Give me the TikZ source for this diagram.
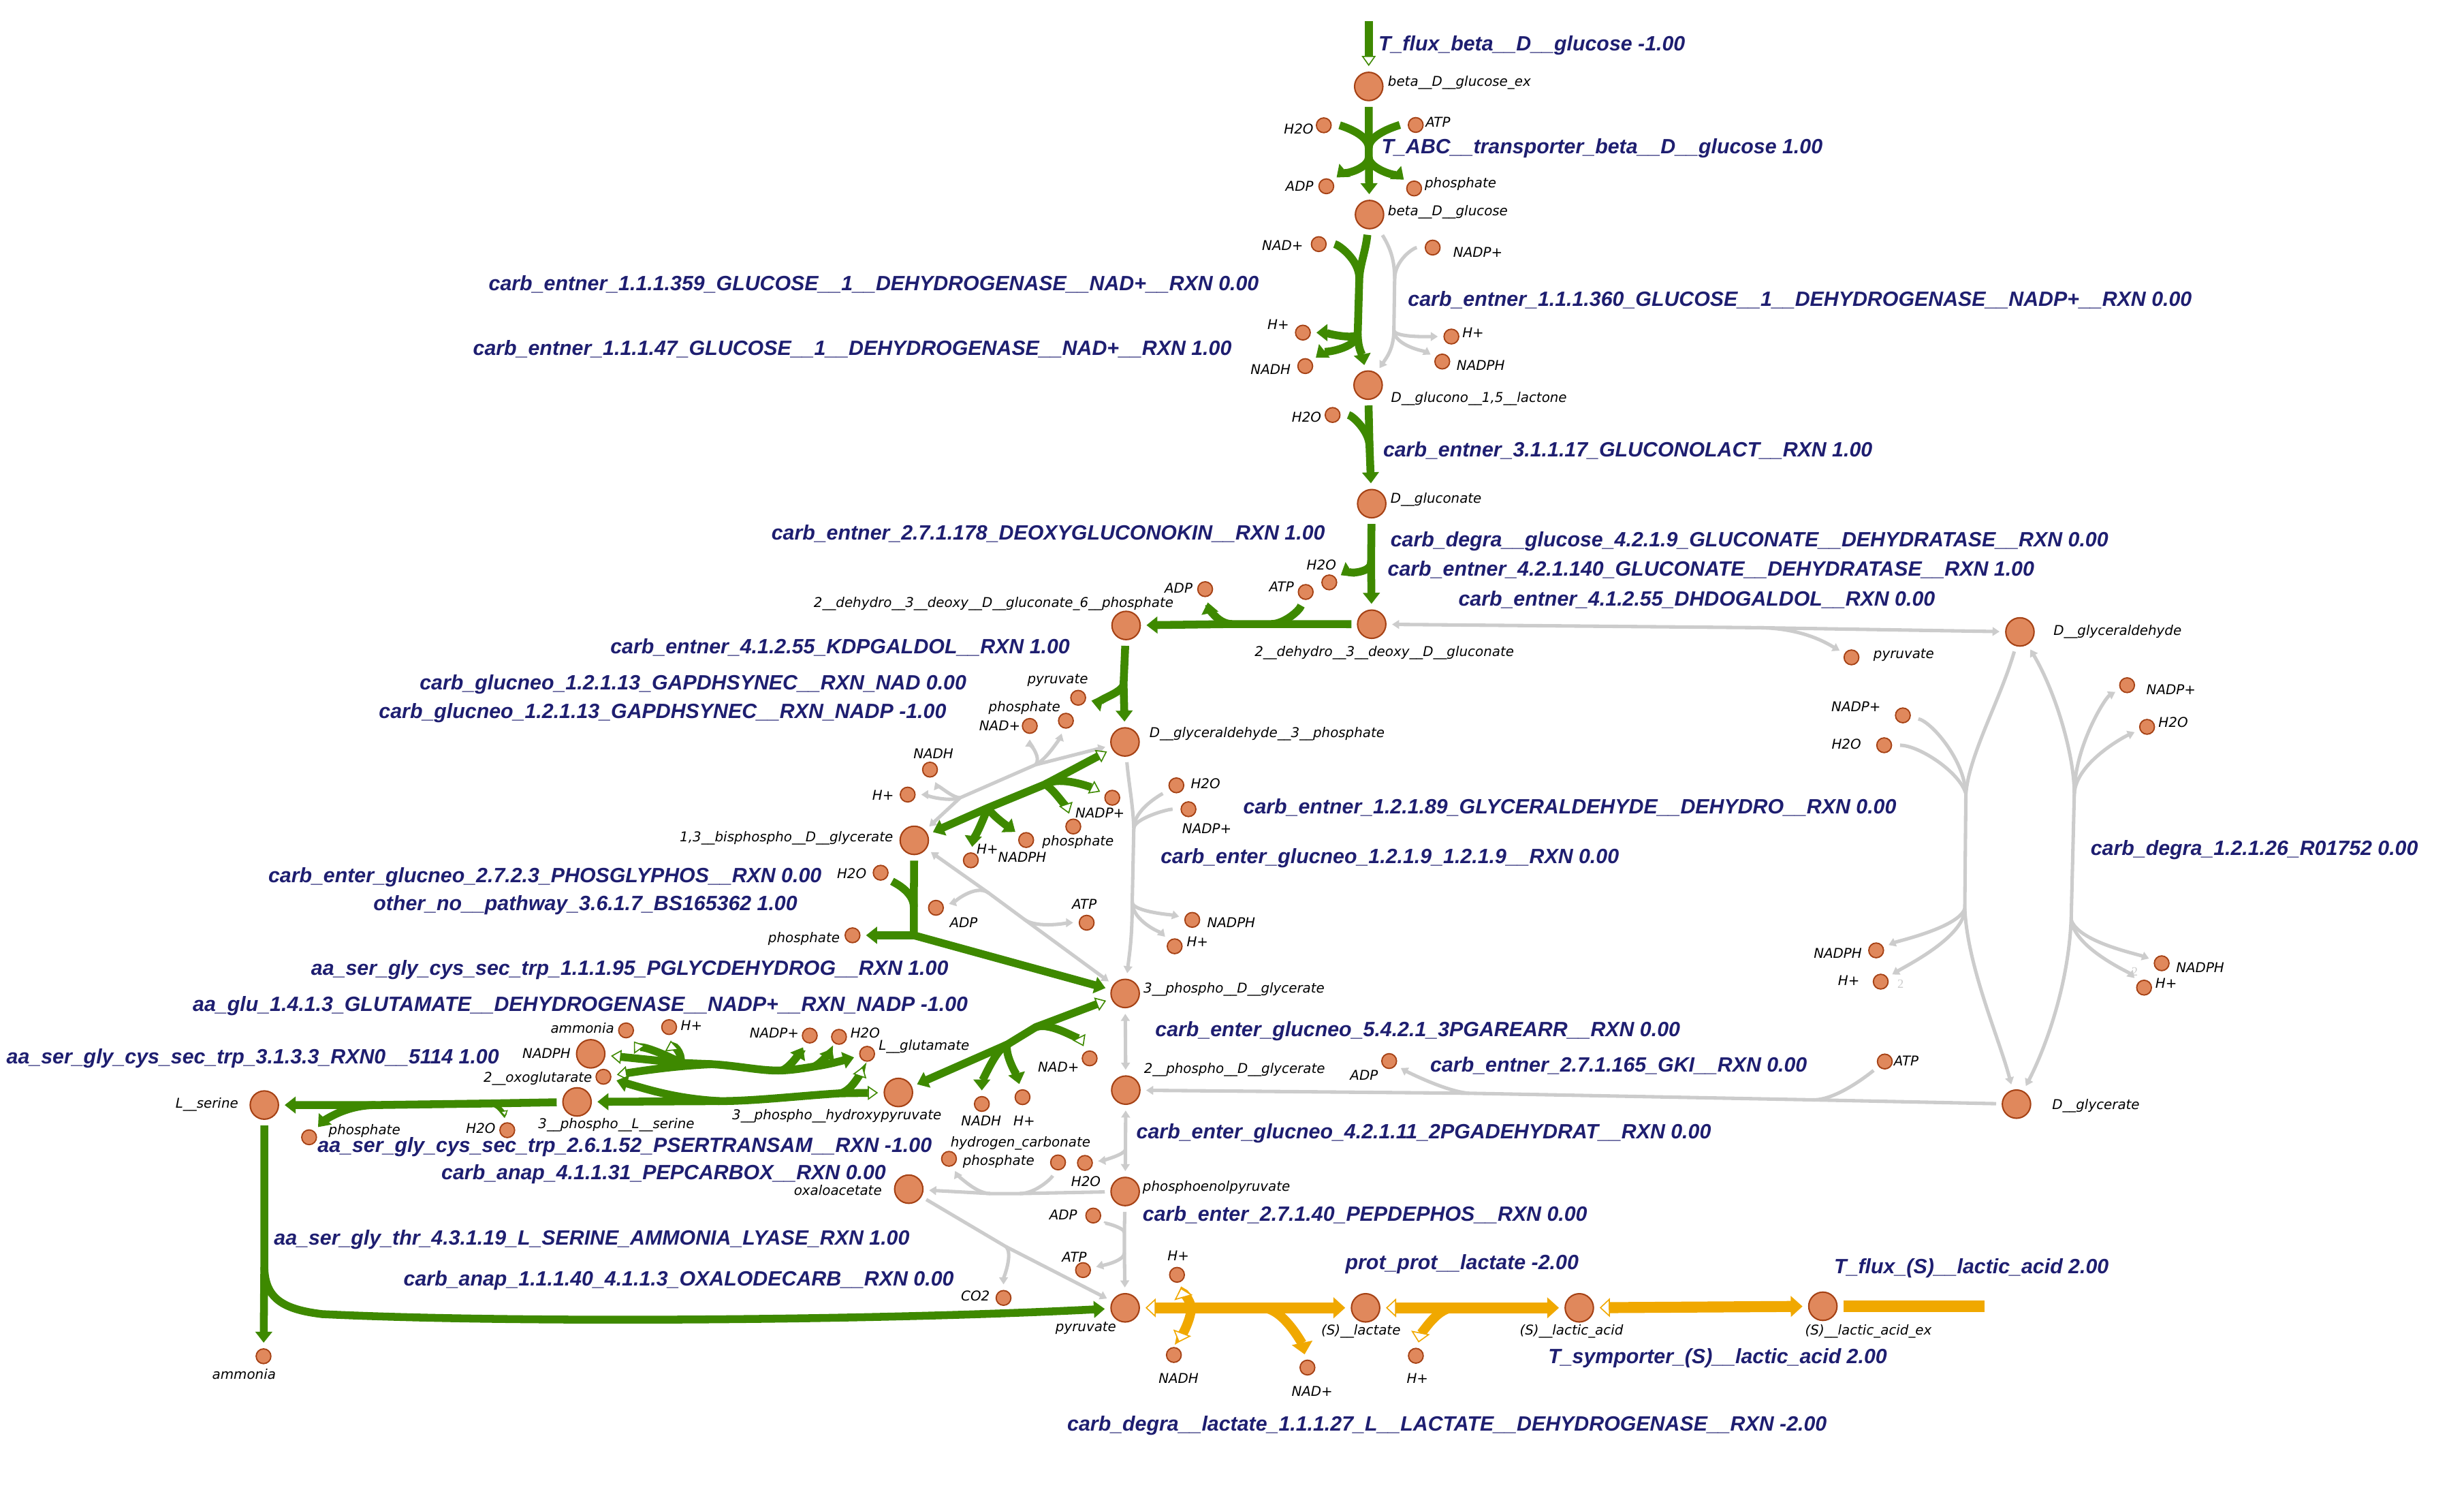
\documentclass[tikz,border=0pt]{standalone}
\usepackage{fontspec}
\setmainfont{Liberation Sans}
\newfontfamily\metfont{DejaVu Sans}
\newfontfamily\stoichfont{Liberation Serif}
\usetikzlibrary{arrows.meta}
\definecolor{fluxgreen}{RGB}{62,137,0}
\definecolor{fluxorange}{RGB}{240,168,0}
\definecolor{zerogray}{RGB}{204,204,204}
\definecolor{metfill}{RGB}{224,136,92}
\definecolor{metedge}{RGB}{165,65,20}
\definecolor{rxnblue}{RGB}{30,30,112}
\tikzset{
  gtip/.tip={Triangle[length=7pt,width=10.5pt]},
  gopen/.tip={Triangle[length=6.5pt,width=9pt,line width=0.7pt,fill=white]},
  otip/.tip={Triangle[length=7.5pt,width=13pt]},
  oopen/.tip={Triangle[length=6.5pt,width=12pt,line width=0.7pt,fill=white]},
  ztip/.tip={Triangle[length=4.5pt,width=5.5pt]},
  htip/.tip={Triangle[length=4pt,width=5pt,line width=0.6pt,fill=white]},
}
\begin{document}
\begin{tikzpicture}[x=1pt, y=-1pt,
    met node/.style={circle, draw=metedge, fill=metfill, line width=0.9pt, inner sep=0pt, minimum size=18pt},
    side node/.style={circle, draw=metedge, fill=metfill, line width=0.8pt, inner sep=0pt, minimum size=9.4pt},
    met label/.style={font=\metfont\itshape\fontsize{8.6}{10}\selectfont, inner sep=0pt},
    rxn label/.style={font=\bfseries\itshape\fontsize{13.15}{15}\selectfont, text=rxnblue, inner sep=0pt},
    stoich/.style={font=\stoichfont\fontsize{8}{9}\selectfont, text=zerogray, inner sep=0pt},
    flux/.style={draw=fluxgreen, line width=5pt, shorten >=3.5pt},
    lactate flux/.style={draw=fluxorange, line width=7pt, shorten >=3.5pt},
    zero flux/.style={draw=zerogray, line width=2.2pt, shorten >=3.5pt},
    from node/.style={shorten <=3.5pt}]
  \useasboundingbox (0,0) rectangle (1568,951.4);

  % main metabolites
  \node[met node] (glcex) at (871,55) {};
  \node[met node] (glc) at (871.5,136.5) {};
  \node[met node] (glcl) at (870.6,245) {};
  \node[met node] (glcn) at (872.9,320.4) {};
  \node[met node] (kdg) at (872.9,397.1) {};
  \node[met node] (kdpg) at (716.6,397.9) {};
  \node[met node] (gap) at (715.9,472) {};
  \node[met node] (bpg) at (581.8,534.6) {};
  \node[met node] (pga3) at (716,632) {};
  \node[met node] (pga2) at (716.4,693.5) {};
  \node[met node] (pep) at (716,758) {};
  \node[met node] (pyr) at (716,832) {};
  \node[met node] (oaa) at (578.3,756.5) {};
  \node[met node] (php) at (571.7,695) {};
  \node[met node] (pser) at (367.2,701) {};
  \node[met node] (ser) at (168.2,703) {};
  \node[met node] (nadphg) at (375.9,670.4) {};
  \node[met node] (glyald) at (1285.4,402) {};
  \node[met node] (glyc) at (1283.2,702.4) {};
  \node[met node] (lac) at (869,832) {};
  \node[met node] (laca) at (1005,832) {};
  \node[met node] (lacex) at (1160,831) {};

  % side metabolites
  \node[side node] (h2oa) at (842.4,79.7) {};
  \node[side node] (atpa) at (900.9,79.5) {};
  \node[side node] (adpa) at (844,118.5) {};
  \node[side node] (pia) at (899.9,119.9) {};
  \node[side node] (nada) at (839.2,155.3) {};
  \node[side node] (nadpa) at (911.7,157.5) {};
  \node[side node] (hla) at (829.1,211.6) {};
  \node[side node] (nadha) at (830.6,232.9) {};
  \node[side node] (hra) at (923.6,214.1) {};
  \node[side node] (nadpha) at (917.8,230) {};
  \node[side node] (h2ob) at (848,264) {};
  \node[side node] (h2oc) at (845.9,370.5) {};
  \node[side node] (atpb) at (830.9,376.6) {};
  \node[side node] (adpb) at (766.9,374.8) {};
  \node[side node] (pyrb) at (686.1,443.9) {};
  \node[side node] (pib) at (678.3,458.5) {};
  \node[side node] (nadb) at (655.3,461.8) {};
  \node[side node] (nadhb) at (591.8,489.6) {};
  \node[side node] (hb) at (577.6,505.5) {};
  \node[side node] (nadpb) at (707.8,507.5) {};
  \node[side node] (pic) at (683,525.8) {};
  \node[side node] (hc) at (617.8,547.3) {};
  \node[side node] (nadphc) at (653,534.4) {};
  \node[side node] (h2od) at (748.6,499.6) {};
  \node[side node] (nadpd) at (756.3,514.8) {};
  \node[side node] (nadphd) at (758.7,585.2) {};
  \node[side node] (hd) at (747.5,602) {};
  \node[side node] (h2oe) at (560.4,555.2) {};
  \node[side node] (adpe) at (595.6,577.5) {};
  \node[side node] (atpe) at (691.5,587) {};
  \node[side node] (pie) at (542.5,595) {};
  \node[side node] (nadf) at (693.4,673.3) {};
  \node[side node] (nadhf) at (624.8,702.3) {};
  \node[side node] (hf) at (650.7,698) {};
  \node[side node] (nh3g) at (398.4,655.5) {};
  \node[side node] (hg) at (425.8,653.4) {};
  \node[side node] (ogg) at (384,685) {};
  \node[side node] (nadpg) at (515.3,658.8) {};
  \node[side node] (h2og) at (533.9,659.6) {};
  \node[side node] (glug) at (551.8,670.4) {};
  \node[side node] (h2oh) at (322.8,719) {};
  \node[side node] (pih) at (196.7,723.5) {};
  \node[side node] (nh3i) at (167.7,862.8) {};
  \node[side node] (hco3) at (673.3,739.5) {};
  \node[side node] (pij) at (603.9,737.2) {};
  \node[side node] (h2oj) at (690.4,739.8) {};
  \node[side node] (adpk) at (695.7,773.3) {};
  \node[side node] (atpk) at (689.2,808) {};
  \node[side node] (co2) at (638.6,825.7) {};
  \node[side node] (pyrl) at (1178.2,418.2) {};
  \node[side node] (nadpm) at (1210.9,455.1) {};
  \node[side node] (h2om) at (1199,474.1) {};
  \node[side node] (nadphm) at (1193.9,604.6) {};
  \node[side node] (hm) at (1196.8,624.5) {};
  \node[side node] (nadpn) at (1353.6,435.9) {};
  \node[side node] (h2on) at (1366.3,462.4) {};
  \node[side node] (nadphn) at (1375.6,612.8) {};
  \node[side node] (hn) at (1364.4,628.3) {};
  \node[side node] (atpo) at (1199.4,675.3) {};
  \node[side node] (adpo) at (884,675) {};
  \node[side node] (hp) at (749,811) {};
  \node[side node] (nadhp) at (747,862) {};
  \node[side node] (nadpp) at (832,870) {};
  \node[side node] (hq) at (901,862.5) {};

  % beta-D-glucose uptake
  \coordinate (glcin) at (871,13.5);
  \draw[flux, -{gopen}] (glcin) -- (glcex);
  \coordinate (abcin) at (871,94);
  \coordinate (abcout) at (871,100);
  \draw[flux, -{gtip}, from node] (glcex) -- (abcin) -- (abcout) -- (glc);
  \draw[flux, shorten >=5pt] (abcin) .. controls +(0,-9) and +(-10,0) .. (atpa);
  \draw[flux, shorten >=5pt] (abcin) .. controls +(0,-9) and +(10,0) .. (h2oa);
  \draw[flux, -{gtip}] (abcout) .. controls +(0,8) and +(7,-6) .. (adpa);
  \draw[flux, -{gtip}] (abcout) .. controls +(0,8) and +(-7,-6) .. (pia);

  % glucose dehydrogenase, NAD+ and NADP+
  \coordinate (gdha1) at (865,177);
  \coordinate (gdha2) at (864,212);
  \draw[flux, -{gtip}, from node] (glc) .. controls (869,160) and (865.5,168) .. (gdha1) -- (gdha2) .. controls (864,222) and (867,226) .. (glcl);
  \draw[flux, shorten >=5pt] (gdha1) .. controls +(0,-12) and +(12,0) .. (nada);
  \draw[flux, -{gtip}] (gdha2) .. controls +(0,5) and +(12,0) .. (hla);
  \draw[flux, -{gtip}] (gdha2) .. controls +(0,10) and +(10,-8) .. (nadha);
  \coordinate (gdhb1) at (887.5,177.5);
  \coordinate (gdhb2) at (887,210);
  \draw[zero flux, -{ztip}, shorten <=6pt] (glc) .. controls (885,158) and (887.5,166) .. (gdhb1) -- (gdhb2) .. controls (887,222) and (882,228) .. (glcl);
  \draw[zero flux, shorten >=5pt] (gdhb1) .. controls +(0,-12) and +(-12,0) .. (nadpa);
  \draw[zero flux, -{ztip}] (gdhb2) .. controls +(0,5) and +(-12,0) .. (hra);
  \draw[zero flux, -{ztip}] (gdhb2) .. controls +(0,10) and +(-10,-6) .. (nadpha);

  % gluconolactonase, dehydratase
  \coordinate (glac) at (871.5,284);
  \draw[flux, -{gtip}, from node] (glcl) -- (glac) -- (glcn);
  \draw[flux, shorten >=5pt] (glac) .. controls +(0,-10) and +(12,0) .. (h2ob);
  \coordinate (gdt) at (872.5,358);
  \draw[flux, -{gtip}, from node] (glcn) -- (gdt) -- (kdg);
  \draw[flux, -{gtip}] (gdt) .. controls +(0,7) and +(8,-5) .. (h2oc);

  % deoxygluconokinase
  \coordinate (dgk1) at (809,397);
  \coordinate (dgk2) at (784,397);
  \draw[flux, -{gtip}, from node] (kdg) -- (dgk1) -- (dgk2) -- (kdpg);
  \draw[flux, shorten >=4pt] (dgk1) .. controls +(8,0) and +(-4,12) .. (atpb);
  \draw[flux, -{gtip}] (dgk2) .. controls +(-10,0) and +(2,10) .. (adpb);

  % aldolases
  \coordinate (ald) at (1118,399.3);
  \draw[zero flux, {ztip}-{ztip}, from node] (glyald) -- (ald) -- (kdg);
  \draw[zero flux, -{ztip}] (ald) .. controls +(30,0) and +(-14,-8) .. (pyrl);
  \coordinate (kda) at (715,435);
  \draw[flux, -{gtip}, from node] (kdpg) -- (kda) -- (gap);
  \draw[flux, -{gtip}] (kda) .. controls +(0,6) and +(9,2) .. (pyrb);

  % GAPDH, NAD and NADP
  \coordinate (gpn1) at (659,486.5);
  \coordinate (gpn2) at (611,507.5);
  \draw[zero flux, {ztip}-{ztip}, from node] (bpg) -- (gpn2) -- (gpn1) -- (gap);
  \draw[zero flux, -{ztip}] (gpn1) .. controls +(4,-4) and +(0,10) .. (nadb);
  \draw[zero flux, -{ztip}] (gpn1) .. controls +(8,-4) and +(-3,9) .. (pib);
  \draw[zero flux, -{ztip}] (gpn2) .. controls +(-6,0) and +(3,7) .. (nadhb);
  \draw[zero flux, -{ztip}] (gpn2) .. controls +(-8,3) and +(8,0) .. (hb);
  \coordinate (gpp1) at (665,499);
  \coordinate (gpp2) at (628.5,514);
  \draw[flux, {gopen}-{gtip}, from node] (gap) -- (gpp1) -- (gpp2) -- (bpg);
  \draw[flux, -{gopen}] (gpp1) .. controls +(10,-6) and +(-12,-6) .. (nadpb);
  \draw[flux, -{gopen}] (gpp1) .. controls +(6,3) and +(-3,-9) .. (pic);
  \draw[flux, -{gtip}] (gpp2) .. controls +(-3,8) and +(1,-10) .. (hc);
  \draw[flux, -{gtip}] (gpp2) .. controls +(4,6) and +(-8,-6) .. (nadphc);

  % non-phosphorylating G3P dehydrogenase
  \coordinate (gld1) at (721.5,527);
  \coordinate (gld2) at (720.5,574);
  \draw[zero flux, -{ztip}, from node] (gap) .. controls (718.5,500) and (721,512) .. (gld1) -- (gld2) .. controls (720.5,598) and (718.5,608) .. (pga3);
  \draw[zero flux, shorten >=5pt] (gld1) .. controls +(0,-12) and +(-10,6) .. (h2od);
  \draw[zero flux, shorten >=5pt] (gld1) .. controls +(0,-6) and +(-14,0) .. (nadpd);
  \draw[zero flux, -{ztip}] (gld2) .. controls +(0,6) and +(-12,-3) .. (nadphd);
  \draw[zero flux, -{ztip}] (gld2) .. controls +(0,12) and +(-8,-8) .. (hd);

  % phosphoglycerate kinase, BS165362
  \coordinate (pgk1) at (629,568);
  \coordinate (pgk2) at (652,585);
  \draw[zero flux, {ztip}-{ztip}, from node] (bpg) -- (pgk1) -- (pgk2) -- (pga3);
  \draw[zero flux, -{ztip}] (pgk1) .. controls +(-8,-6) and +(10,-3) .. (adpe);
  \draw[zero flux, -{ztip}] (pgk2) .. controls +(8,6) and +(-10,0) .. (atpe);
  \coordinate (bs1) at (581.5,577);
  \coordinate (bs2) at (581.5,595);
  \draw[flux, -{gtip}, from node] (bpg) -- (bs1) -- (bs2) -- (pga3);
  \draw[flux, -{gtip}] (bs2) -- (pie);
  \draw[flux, shorten >=4pt] (bs1) .. controls +(0,-10) and +(8,6) .. (h2oe);

  % serine branch
  \coordinate (pgd1) at (659,653.5);
  \coordinate (pgd2) at (641,664.5);
  \draw[flux, {gopen}-{gtip}, from node] (pga3) -- (pgd1) -- (pgd2) -- (php);
  \draw[flux, -{gopen}] (pgd1) .. controls +(10,-4) and +(-5,-10) .. (nadf);
  \draw[flux, -{gtip}] (pgd2) .. controls +(-8,3) and +(0,-12) .. (nadhf);
  \draw[flux, -{gtip}] (pgd2) .. controls +(-2,6) and +(-3,-12) .. (hf);
  \coordinate (gdu1) at (433,676.2);
  \coordinate (gdu2) at (453,677);
  \coordinate (gdu3) at (497.5,681);
  \coordinate (gdu4) at (518,678.5);
  \draw[flux, {gopen}-{gtip}, from node] (nadphg) -- (gdu1) -- (gdu2) .. controls (470,678) and (485,681.5) .. (gdu3) .. controls (506,680.5) and (512,679.5) .. (gdu4) .. controls (528,677) and (535,675) .. (glug);
  \draw[flux, -{gopen}] (gdu2) .. controls (430,678) and (410,681) .. (ogg);
  \draw[flux, -{gopen}] (gdu1) .. controls +(-6,-4) and +(5,7) .. (nh3g);
  \draw[flux, -{gopen}] (gdu1) .. controls +(2,-6) and +(1,8) .. (hg);
  \draw[flux, -{gtip}] (gdu3) .. controls +(6,-2) and +(-4,7) .. (nadpg);
  \draw[flux, -{gtip}] (gdu4) .. controls +(5,-2) and +(-4,7) .. (h2og);
  \coordinate (pst1) at (535,695.5);
  \coordinate (pst2) at (458,700.5);
  \draw[flux, {gopen}-{gtip}, from node] (php) -- (pst1) .. controls (510,697) and (480,700.5) .. (pst2) -- (pser);
  \draw[flux, -{gopen}] (pst1) .. controls +(8,-2) and +(-3,9) .. (glug);
  \draw[flux, -{gtip}] (pst2) .. controls (430,699) and (412,693) .. (ogg);
  \coordinate (sp1) at (311,702);
  \coordinate (sp2) at (239,703);
  \draw[flux, -{gtip}, from node] (pser) -- (sp1) -- (sp2) -- (ser);
  \draw[flux, line width=3pt, -{htip}] (sp1) .. controls +(8,0) and +(-1,-6) .. (h2oh);
  \draw[flux, -{gtip}] (sp2) .. controls +(-22,0) and +(7,-8) .. (pih);
  \coordinate (sal1) at (168.2,806);
  \coordinate (sal2) at (205,836);
  \draw[flux, -{gtip}, from node] (ser) -- (sal1) -- (nh3i);
  \draw[flux, -{gtip}] (sal1) .. controls (168.5,826) and (180,833) .. (sal2) .. controls (330,842) and (560,840) .. (pyr);

  % lower glycolysis and anaplerosis
  \draw[zero flux, {ztip}-{ztip}, from node] (pga3) -- (pga2);
  \coordinate (eno) at (716.2,731);
  \draw[zero flux, {ztip}-{ztip}, from node] (pga2) -- (eno) -- (pep);
  \draw[zero flux, -{ztip}] (eno) .. controls +(0,4) and +(8,-1) .. (h2oj);
  \coordinate (ppc1) at (649,759.3);
  \coordinate (ppc2) at (630,759.3);
  \draw[zero flux, -{ztip}, from node] (pep) -- (ppc1) -- (ppc2) -- (oaa);
  \draw[zero flux, shorten >=4pt] (ppc1) .. controls +(10,0) and +(-4,10) .. (hco3);
  \draw[zero flux, -{ztip}] (ppc2) .. controls +(-10,0) and +(4,8) .. (pij);
  \coordinate (pk1) at (715.5,784);
  \coordinate (pk2) at (715.5,797);
  \draw[zero flux, -{ztip}, from node] (pep) -- (pk1) -- (pk2) -- (pyr);
  \draw[zero flux, shorten >=4pt] (pk1) .. controls +(0,-3) and +(6,4) .. (adpk);
  \draw[zero flux, -{ztip}] (pk2) .. controls +(0,6) and +(8,-2) .. (atpk);
  \coordinate (oxd) at (640,793);
  \draw[zero flux, -{ztip}, from node] (oaa) -- (oxd) -- (pyr);
  \draw[zero flux, -{ztip}] (oxd) .. controls +(5,4) and +(0,-12) .. (co2);

  % glyceraldehyde / glycerate
  \coordinate (gki1) at (1154,699.7);
  \coordinate (gki2) at (935,695.5);
  \draw[zero flux, -{ztip}, from node] (glyc) -- (gki1) -- (gki2) -- (pga2);
  \draw[zero flux, shorten >=4pt] (gki1) .. controls +(15,0) and +(-10,8) .. (atpo);
  \draw[zero flux, -{ztip}] (gki2) .. controls +(-15,-1) and +(10,6) .. (adpo);
  \coordinate (gla1) at (1251,505);
  \coordinate (gla2) at (1250.3,578);
  \draw[zero flux, -{ztip}, from node] (glyald) .. controls (1273,445) and (1253,480) .. (gla1) -- (gla2) .. controls (1252,615) and (1272,660) .. (glyc);
  \draw[zero flux, shorten >=5pt] (gla1) .. controls +(-1,-22) and +(18,4) .. (nadpm);
  \draw[zero flux, shorten >=5pt] (gla1) .. controls +(-4,-14) and +(22,0) .. (h2om);
  \draw[zero flux, -{ztip}] (gla2) .. controls +(-4,12) and +(14,-6) .. (nadphm);
  \draw[zero flux, -{ztip}] (gla2) .. controls +(0,18) and +(16,-10) .. (hm);
  \coordinate (grb1) at (1320,505);
  \coordinate (grb2) at (1318,585);
  \draw[zero flux, {ztip}-{ztip}, from node] (glyald) .. controls (1308,440) and (1320,480) .. (grb1) -- (grb2) .. controls (1316,630) and (1300,670) .. (glyc);
  \draw[zero flux, -{ztip}] (grb1) .. controls +(0,-30) and +(-14,8) .. (nadpn);
  \draw[zero flux, -{ztip}] (grb1) .. controls +(1,-20) and +(-14,6) .. (h2on);
  \draw[zero flux, -{ztip}] (grb2) .. controls +(4,14) and +(-16,-6) .. (nadphn);
  \draw[zero flux, -{ztip}] (grb2) .. controls +(2,18) and +(-10,-10) .. (hn);
  \node[stoich] (two1) at (1209.5,626) {2};
  \node[stoich] (two2) at (1358.4,618) {2};

  % lactate
  \coordinate (ldh1) at (758,832);
  \coordinate (ldh2) at (803,832);
  \draw[lactate flux, {oopen}-{otip}, from node] (pyr) -- (ldh1) -- (ldh2) -- (lac);
  \draw[lactate flux, line width=6pt, -{oopen}] (ldh1) .. controls +(0,-4) and +(2,7) .. (hp);
  \draw[lactate flux, line width=6pt, -{oopen}] (ldh1) .. controls +(0,8) and +(3,-8) .. (nadhp);
  \draw[lactate flux, line width=6pt, -{otip}] (ldh2) .. controls +(14,0) and +(-3,-14) .. (nadpp);
  \coordinate (pp1) at (925,832);
  \draw[lactate flux, {oopen}-{otip}, from node] (lac) -- (pp1) -- (laca);
  \draw[lactate flux, line width=6pt, -{oopen}] (pp1) .. controls +(-12,0) and +(2,-10) .. (hq);
  \draw[lactate flux, {oopen}-{otip}, from node] (laca) -- (lacex);
  \coordinate (lacout) at (1263,831);
  \draw[lactate flux, from node, shorten >=0pt] (lacex) -- (lacout);

  % metabolite labels
  \node[met label, anchor=west] (lglcex) at (883,52.5) {beta\_\_D\_\_glucose\_ex};
  \node[met label, anchor=west] (lglc) at (883,134.8) {beta\_\_D\_\_glucose};
  \node[met label, anchor=west] (lglcl) at (885,253.8) {D\_\_glucono\_\_1,5\_\_lactone};
  \node[met label, anchor=west] (lglcn) at (884.7,317.7) {D\_\_gluconate};
  \node[met label] (lkdg) at (880.9,415.5) {2\_\_dehydro\_\_3\_\_deoxy\_\_D\_\_gluconate};
  \node[met label] (lkdpg) at (632.3,384) {2\_\_dehydro\_\_3\_\_deoxy\_\_D\_\_gluconate\_6\_\_phosphate};
  \node[met label, anchor=west] (lgap) at (731.3,467) {D\_\_glyceraldehyde\_\_3\_\_phosphate};
  \node[met label, anchor=east] (lbpg) at (568.5,533.2) {1,3\_\_bisphospho\_\_D\_\_glycerate};
  \node[met label, anchor=west] (lpga3) at (727.5,629.2) {3\_\_phospho\_\_D\_\_glycerate};
  \node[met label, anchor=west] (lpga2) at (727.8,680.5) {2\_\_phospho\_\_D\_\_glycerate};
  \node[met label, anchor=west] (lpep) at (727,755.6) {phosphoenolpyruvate};
  \node[met label] (lpyr) at (691,845) {pyruvate};
  \node[met label, anchor=east] (loaa) at (561.3,757) {oxaloacetate};
  \node[met label] (lphp) at (532.5,709.8) {3\_\_phospho\_\_hydroxypyruvate};
  \node[met label] (lpser) at (392.2,715.5) {3\_\_phospho\_\_L\_\_serine};
  \node[met label, anchor=east] (lser) at (151.8,702.5) {L\_\_serine};
  \node[met label, anchor=east] (lnadphg) at (363.3,670.3) {NADPH};
  \node[met label, anchor=west] (lglyald) at (1306.6,402) {D\_\_glyceraldehyde};
  \node[met label, anchor=west] (lglyc) at (1305.7,703.5) {D\_\_glycerate};
  \node[met label] (llac) at (866,847) {(S)\_\_lactate};
  \node[met label] (llaca) at (1000,847) {(S)\_\_lactic\_acid};
  \node[met label] (llacex) at (1189,847) {(S)\_\_lactic\_acid\_ex};

  \node[met label, anchor=east] (lh2oa) at (836,82) {H2O};
  \node[met label, anchor=west] (latpa) at (907,77.5) {ATP};
  \node[met label, anchor=east] (ladpa) at (836,118.5) {ADP};
  \node[met label, anchor=west] (lpia) at (906.5,117) {phosphate};
  \node[met label, anchor=east] (lnada) at (829.5,156) {NAD+};
  \node[met label, anchor=west] (lnadpa) at (924.6,160.5) {NADP+};
  \node[met label, anchor=east] (lhla) at (820.5,206.5) {H+};
  \node[met label, anchor=east] (lnadha) at (821.5,235) {NADH};
  \node[met label, anchor=west] (lhra) at (930.4,211.6) {H+};
  \node[met label, anchor=west] (lnadpha) at (926.8,232.3) {NADPH};
  \node[met label, anchor=east] (lh2ob) at (841,265.5) {H2O};
  \node[met label] (lh2oc) at (840.9,359.3) {H2O};
  \node[met label] (latpb) at (815.5,373.3) {ATP};
  \node[met label] (ladpb) at (750,374) {ADP};
  \node[met label] (lpyrb) at (673.1,432.6) {pyruvate};
  \node[met label] (lpib) at (651.9,450.2) {phosphate};
  \node[met label, anchor=east] (lnadb) at (649.5,461.5) {NAD+};
  \node[met label] (lnadhb) at (594,479.6) {NADH};
  \node[met label, anchor=east] (lhb) at (569,506) {H+};
  \node[met label] (lnadpb) at (700,517) {NADP+};
  \node[met label] (lpic) at (686,535.5) {phosphate};
  \node[met label] (lhc) at (628.4,540) {H+};
  \node[met label] (lnadphc) at (650.5,545.5) {NADPH};
  \node[met label, anchor=west] (lh2od) at (757.6,498.5) {H2O};
  \node[met label] (lnadpd) at (768,527) {NADP+};
  \node[met label, anchor=west] (lnadphd) at (768,587) {NADPH};
  \node[met label, anchor=west] (lhd) at (755,599) {H+};
  \node[met label] (lh2oe) at (542,555.5) {H2O};
  \node[met label] (ladpe) at (613.2,587) {ADP};
  \node[met label] (latpe) at (690,575.2) {ATP};
  \node[met label] (lpie) at (511.6,597) {phosphate};
  \node[met label] (lnadf) at (673.6,679) {NAD+};
  \node[met label] (lnadhf) at (624.4,713) {NADH};
  \node[met label] (lhf) at (651.8,713) {H+};
  \node[met label, anchor=east] (lnh3g) at (391,654) {ammonia};
  \node[met label, anchor=west] (lhg) at (433,652.5) {H+};
  \node[met label, anchor=east] (logg) at (377,686) {2\_\_oxoglutarate};
  \node[met label, anchor=east] (lnadpg) at (508.6,657) {NADP+};
  \node[met label, anchor=west] (lh2og) at (541,657) {H2O};
  \node[met label, anchor=west] (lglug) at (559,666) {L\_\_glutamate};
  \node[met label, anchor=east] (lh2oh) at (315.5,718) {H2O};
  \node[met label, anchor=west] (lpih) at (209,719.5) {phosphate};
  \node[met label] (lnh3i) at (155.3,874) {ammonia};
  \node[met label] (lhco3) at (649.4,727.3) {hydrogen\_carbonate};
  \node[met label, anchor=west] (lpij) at (612.5,739) {phosphate};
  \node[met label] (lh2oj) at (691,751.5) {H2O};
  \node[met label] (ladpk) at (676.6,773) {ADP};
  \node[met label] (latpk) at (683.7,799.7) {ATP};
  \node[met label] (lco2) at (620.7,824.3) {CO2};
  \node[met label, anchor=west] (lpyrl) at (1192,416.6) {pyruvate};
  \node[met label, anchor=east] (lnadpm) at (1197,449.6) {NADP+};
  \node[met label, anchor=east] (lh2om) at (1184.5,473.5) {H2O};
  \node[met label, anchor=east] (lnadphm) at (1185,606.2) {NADPH};
  \node[met label, anchor=east] (lhm) at (1183.5,623.8) {H+};
  \node[met label, anchor=west] (lnadpn) at (1365.7,438.8) {NADP+};
  \node[met label, anchor=west] (lh2on) at (1373.4,459.6) {H2O};
  \node[met label, anchor=west] (lnadphn) at (1384.6,615.6) {NADPH};
  \node[met label, anchor=west] (lhn) at (1371.4,625.4) {H+};
  \node[met label, anchor=west] (latpo) at (1205,674.7) {ATP};
  \node[met label] (ladpo) at (868,684) {ADP};
  \node[met label] (lhp) at (749.8,799) {H+};
  \node[met label] (lnadhp) at (750,877) {NADH};
  \node[met label] (lnadpp) at (835,885) {NAD+};
  \node[met label] (lhq) at (902,877) {H+};

  % reaction labels
  \node[rxn label, anchor=west] (rtfluxglc) at (877,28.7) {T\_flux\_beta\_\_D\_\_glucose -1.00};
  \node[rxn label, anchor=west] (rabc) at (879,94.5) {T\_ABC\_\_transporter\_beta\_\_D\_\_glucose 1.00};
  \node[rxn label, anchor=east] (rgdhnad) at (801.3,181) {carb\_entner\_1.1.1.359\_GLUCOSE\_\_1\_\_DEHYDROGENASE\_\_NAD+\_\_RXN 0.00};
  \node[rxn label, anchor=west] (rgdhnadp) at (895.8,191) {carb\_entner\_1.1.1.360\_GLUCOSE\_\_1\_\_DEHYDROGENASE\_\_NADP+\_\_RXN 0.00};
  \node[rxn label, anchor=east] (rgdhnadb) at (784,222) {carb\_entner\_1.1.1.47\_GLUCOSE\_\_1\_\_DEHYDROGENASE\_\_NAD+\_\_RXN 1.00};
  \node[rxn label, anchor=west] (rglac) at (880,286.5) {carb\_entner\_3.1.1.17\_GLUCONOLACT\_\_RXN 1.00};
  \node[rxn label, anchor=east] (rdgk) at (843.4,339.5) {carb\_entner\_2.7.1.178\_DEOXYGLUCONOKIN\_\_RXN 1.00};
  \node[rxn label, anchor=west] (rgdta) at (884.7,344.6) {carb\_degra\_\_glucose\_4.2.1.9\_GLUCONATE\_\_DEHYDRATASE\_\_RXN 0.00};
  \node[rxn label, anchor=west] (rgdtb) at (882.9,362.6) {carb\_entner\_4.2.1.140\_GLUCONATE\_\_DEHYDRATASE\_\_RXN 1.00};
  \node[rxn label, anchor=west] (rdhdo) at (927.9,381.5) {carb\_entner\_4.1.2.55\_DHDOGALDOL\_\_RXN 0.00};
  \node[rxn label, anchor=east] (rkdpg) at (681,412) {carb\_entner\_4.1.2.55\_KDPGALDOL\_\_RXN 1.00};
  \node[rxn label, anchor=east] (rgapnad) at (615.2,435.3) {carb\_glucneo\_1.2.1.13\_GAPDHSYNEC\_\_RXN\_NAD 0.00};
  \node[rxn label, anchor=east] (rgapnadp) at (602.4,453.4) {carb\_glucneo\_1.2.1.13\_GAPDHSYNEC\_\_RXN\_NADP -1.00};
  \node[rxn label, anchor=west] (rglda) at (791,513.8) {carb\_entner\_1.2.1.89\_GLYCERALDEHYDE\_\_DEHYDRO\_\_RXN 0.00};
  \node[rxn label, anchor=west] (rgldb) at (738.4,546.1) {carb\_enter\_glucneo\_1.2.1.9\_1.2.1.9\_\_RXN 0.00};
  \node[rxn label, anchor=west] (rr01752) at (1330.2,540.9) {carb\_degra\_1.2.1.26\_R01752 0.00};
  \node[rxn label, anchor=east] (rpgk) at (523,558) {carb\_enter\_glucneo\_2.7.2.3\_PHOSGLYPHOS\_\_RXN 0.00};
  \node[rxn label, anchor=east] (rbs) at (507.6,576) {other\_no\_\_pathway\_3.6.1.7\_BS165362 1.00};
  \node[rxn label, anchor=east] (rpgd) at (603.7,617) {aa\_ser\_gly\_cys\_sec\_trp\_1.1.1.95\_PGLYCDEHYDROG\_\_RXN 1.00};
  \node[rxn label, anchor=east] (rglu) at (616.1,640.1) {aa\_glu\_1.4.1.3\_GLUTAMATE\_\_DEHYDROGENASE\_\_NADP+\_\_RXN\_NADP -1.00};
  \node[rxn label, anchor=west] (rpgm) at (735,656) {carb\_enter\_glucneo\_5.4.2.1\_3PGAREARR\_\_RXN 0.00};
  \node[rxn label, anchor=west] (rpsp) at (4,673.4) {aa\_ser\_gly\_cys\_sec\_trp\_3.1.3.3\_RXN0\_\_5114 1.00};
  \node[rxn label, anchor=west] (rgki) at (910,678) {carb\_entner\_2.7.1.165\_GKI\_\_RXN 0.00};
  \node[rxn label, anchor=west] (reno) at (723,721) {carb\_enter\_glucneo\_4.2.1.11\_2PGADEHYDRAT\_\_RXN 0.00};
  \node[rxn label, anchor=east] (rpsat) at (593.2,729.6) {aa\_ser\_gly\_cys\_sec\_trp\_2.6.1.52\_PSERTRANSAM\_\_RXN -1.00};
  \node[rxn label, anchor=east] (rppc) at (564,746.9) {carb\_anap\_4.1.1.31\_PEPCARBOX\_\_RXN 0.00};
  \node[rxn label, anchor=west] (rpk) at (727,773) {carb\_enter\_2.7.1.40\_PEPDEPHOS\_\_RXN 0.00};
  \node[rxn label, anchor=west] (rsal) at (174.2,788.5) {aa\_ser\_gly\_thr\_4.3.1.19\_L\_SERINE\_AMMONIA\_LYASE\_RXN 1.00};
  \node[rxn label, anchor=east] (roxd) at (607.2,814.4) {carb\_anap\_1.1.1.40\_4.1.1.3\_OXALODECARB\_\_RXN 0.00};
  \node[rxn label, anchor=west] (rprot) at (856,804) {prot\_prot\_\_lactate -2.00};
  \node[rxn label, anchor=west] (rtfluxlac) at (1167,807) {T\_flux\_(S)\_\_lactic\_acid 2.00};
  \node[rxn label, anchor=west] (rsym) at (985,864) {T\_symporter\_(S)\_\_lactic\_acid 2.00};
  \node[rxn label, anchor=west] (rldh) at (679,907) {carb\_degra\_\_lactate\_1.1.1.27\_L\_\_LACTATE\_\_DEHYDROGENASE\_\_RXN -2.00};
\end{tikzpicture}
\end{document}
